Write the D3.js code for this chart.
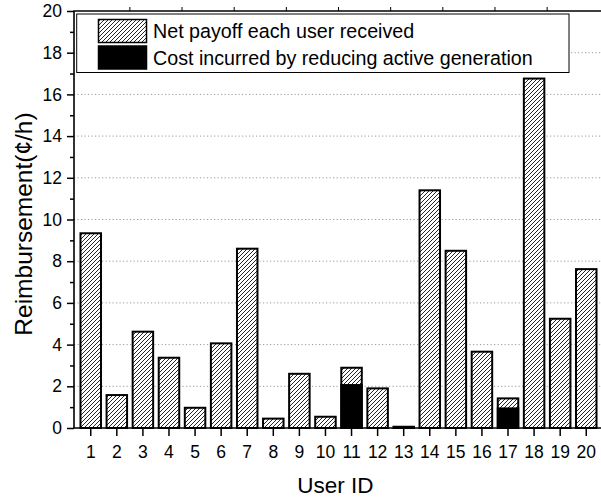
<!DOCTYPE html>
<html>
<head>
<meta charset="utf-8">
<script src="https://cdn.jsdelivr.net/npm/d3@7"></script>
<style>
  html, body { margin: 0; padding: 0; background: #fff; }
  svg { display: block; font-family: "Liberation Sans", Arial, sans-serif; }
</style>
</head>
<body>
<svg id="chart" width="601" height="499"></svg>
<script>
const userIds = [1,2,3,4,5,6,7,8,9,10,11,12,13,14,15,16,17,18,19,20];
const netPayoff = [9.34,1.58,4.62,3.37,0.97,4.06,8.60,0.45,2.60,0.54,0.83,1.90,0.06,11.40,8.50,3.66,0.48,16.76,5.24,7.62];
const costActive = [0,0,0,0,0,0,0,0,0,0,2.06,0,0,0,0,0,0.94,0,0,0];
const yTicks = [0,2,4,6,8,10,12,14,16,18,20];
const yMinorTicks = [1,3,5,7,9,11,13,15,17,19];
const legendLabels = ["Net payoff each user received", "Cost incurred by reducing active generation"];
const xTitle = "User ID";
const yTitle = "Reimbursement(\u00A2/h)";

(function () {
const svg = d3.select("#chart");
const pLeft = 74, pRight = 603, pTop = 11, pBottom = 428;

const x = d3.scaleBand().domain(userIds).range([pLeft, pRight]).paddingInner(0.214).paddingOuter(0.249);
const y = d3.scaleLinear().domain([0, 20]).range([pBottom, pTop]);

// hatch pattern
const defs = svg.append("defs");
const pat = defs.append("pattern").attr("id", "hatch").attr("patternUnits", "userSpaceOnUse")
  .attr("width", 4).attr("height", 4);
pat.append("rect").attr("width", 4).attr("height", 4).attr("fill", "#fff");
pat.append("path").attr("d", "M-1,1 l2,-2 M0,4 l4,-4 M3,5 l2,-2")
  .attr("stroke", "#000").attr("stroke-width", 0.85);

// gridlines
svg.append("g").selectAll("line").data(yTicks.filter(d => d > 0 && d < 20)).join("line")
  .attr("x1", pLeft).attr("x2", pRight).attr("y1", d => y(d)).attr("y2", d => y(d))
  .attr("stroke", "#9a9a9a").attr("stroke-width", 1).attr("stroke-dasharray", "1.2,2.3");

// bars
const data = userIds.map((id, i) => ({ id, net: netPayoff[i], cost: costActive[i] }));
const gb = svg.append("g");
gb.selectAll("rect.net").data(data).join("rect").attr("class", "net")
  .attr("x", d => x(d.id)).attr("width", x.bandwidth())
  .attr("y", d => y(d.cost + d.net)).attr("height", d => y(0) - y(d.cost + d.net))
  .attr("fill", "url(#hatch)").attr("stroke", "#000").attr("stroke-width", 2);
gb.selectAll("rect.cost").data(data.filter(d => d.cost > 0)).join("rect").attr("class", "cost")
  .attr("x", d => x(d.id)).attr("width", x.bandwidth())
  .attr("y", d => y(d.cost)).attr("height", d => y(0) - y(d.cost))
  .attr("fill", "#000").attr("stroke", "#000").attr("stroke-width", 2);

// legend
const lg = svg.append("g");
lg.append("rect").attr("x", 76.7).attr("y", 14).attr("width", 492.3).attr("height", 58.5)
  .attr("fill", "#fff").attr("stroke", "#000").attr("stroke-width", 1);
const fills = ["url(#hatch)", "#000"];
legendLabels.forEach((t, i) => {
  lg.append("rect").attr("x", 98.5).attr("y", 19.5 + i * 26.5).attr("width", 48).attr("height", 23)
    .attr("fill", fills[i]).attr("stroke", "#000").attr("stroke-width", 1.5);
  lg.append("text").attr("x", 153).attr("y", 37.5 + i * 27.5).attr("font-size", 19.7).attr("fill", "#000").text(t);
});

// axes
const yAxis = svg.append("g").attr("transform", `translate(${pLeft},0)`)
  .call(d3.axisLeft(y).tickValues(yTicks).tickSize(7).tickPadding(5).tickFormat(d3.format("d")));
const yMinor = svg.append("g").attr("transform", `translate(${pLeft},0)`)
  .call(d3.axisLeft(y).tickValues(yMinorTicks).tickSize(4).tickFormat(""));
const xAxis = svg.append("g").attr("transform", `translate(0,${pBottom})`)
  .call(d3.axisBottom(x).tickSize(8).tickPadding(10));
[yAxis, yMinor, xAxis].forEach(g => {
  g.select(".domain").remove();
  g.selectAll(".tick line").attr("stroke", "#000").attr("stroke-width", 1.5);
  g.selectAll("text").attr("font-size", 17.5).attr("fill", "#000").attr("font-family", "Liberation Sans, Arial, sans-serif");
});

// top axis ticks (half-integer positions)
const topTickIds = [2,4,6,8,10,12,14,16,18];
svg.append("g").selectAll("line").data(topTickIds).join("line")
  .attr("x1", d => x(d) + x.bandwidth() / 2 + x.step() / 2)
  .attr("x2", d => x(d) + x.bandwidth() / 2 + x.step() / 2)
  .attr("y1", pTop).attr("y2", pTop - 4).attr("stroke", "#000").attr("stroke-width", 1);

// frame
svg.append("path").attr("d", `M${pRight},${pTop}H${pLeft}V${pBottom}H${pRight}V${pTop}`)
  .attr("fill", "none").attr("stroke", "#000").attr("stroke-width", 1.6);

// titles
svg.append("text").attr("x", (pLeft + pRight) / 2 - 3).attr("y", 493).attr("text-anchor", "middle")
  .attr("font-size", 22.5).attr("fill", "#000").text(xTitle);
svg.append("text").attr("transform", "translate(32,224) rotate(-90)").attr("text-anchor", "middle")
  .attr("font-size", 24.5).attr("fill", "#000").text(yTitle);
})();
</script>
</body>
</html>
